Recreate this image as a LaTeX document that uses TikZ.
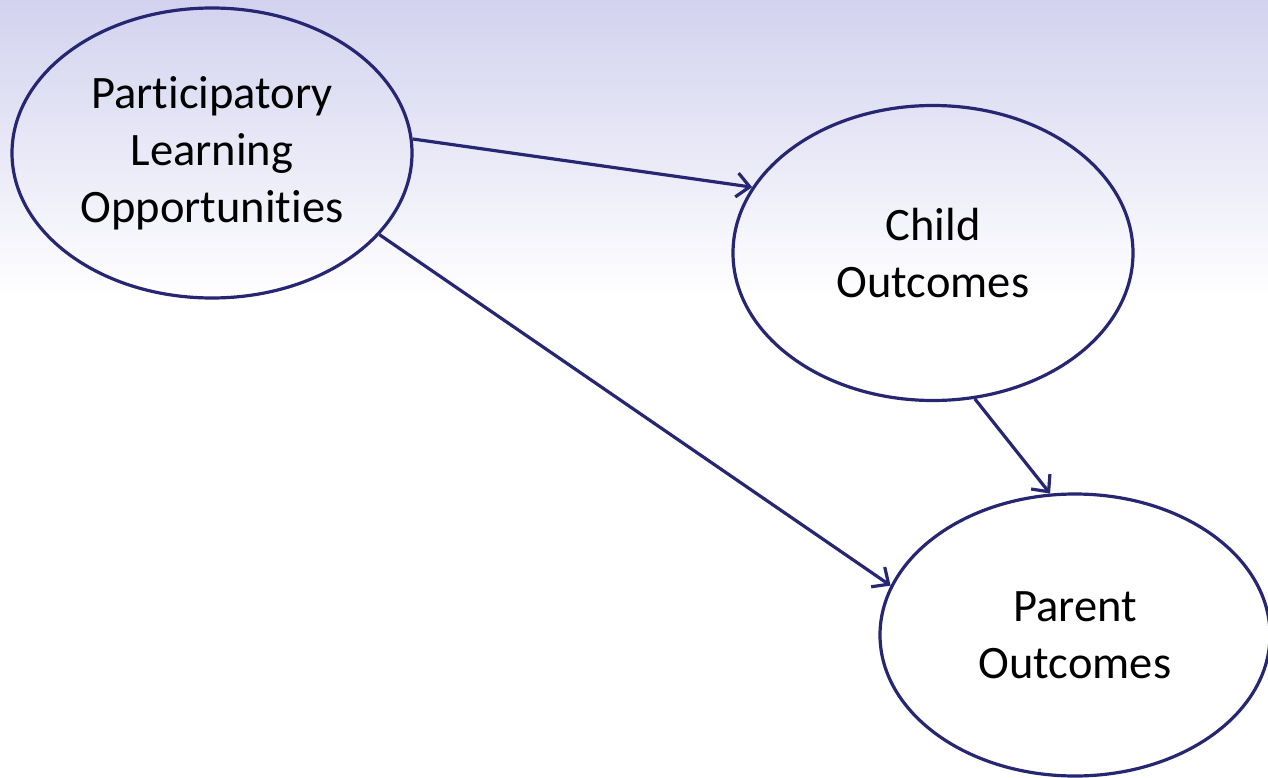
\documentclass[tikz,border=0pt]{standalone}
\usepackage{fontspec}
\setmainfont{Carlito}[Ligatures=NoCommon]
\usetikzlibrary{arrows.meta,shapes.geometric}
\definecolor{navy}{RGB}{38,38,115}
\definecolor{bgtop}{RGB}{210,210,239}
\tikzset{
  oval/.style={ellipse, draw=navy, line width=3.2pt, inner sep=0pt, align=center,
    font=\fontsize{46.5}{57}\selectfont, text=black},
  link/.style={draw=navy, line width=3.2pt, -{Straight Barb[length=13pt,width=24pt,line width=3.2pt]}}
}
\begin{document}
\begin{tikzpicture}[x=1pt,y=-1pt]
\useasboundingbox (0,0) rectangle (1268,778);
\shade[top color=bgtop, bottom color=white] (0,0) rectangle (1268,300);
\fill[white] (0,300) rectangle (1268,778);
\node[oval, minimum width=400pt, minimum height=290pt] (p) at (212,153) {Participatory\\Learning\\Opportunities};
\node[oval, minimum width=400pt, minimum height=295pt] (c) at (933,253) {Child\\Outcomes};
\node[oval, minimum width=390pt, minimum height=282pt] (o) at (1075,635) {Parent\\Outcomes};
\draw[link] (p.4) -- (c.160);
\draw[link] (p.-26) -- (o.165);
\draw[link] (c.-74) -- (o.100);
\end{tikzpicture}
\end{document}
